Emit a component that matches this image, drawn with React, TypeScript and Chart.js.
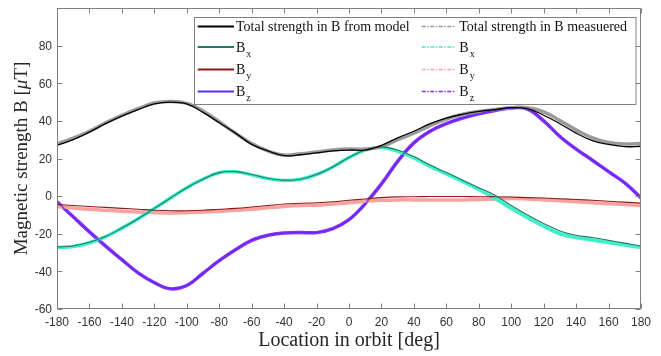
import React, { useEffect, useRef } from "react";
import { Chart, registerables } from "chart.js";
Chart.register(...registerables);

// Location in orbit [deg]
const angles = [
  -180, -170, -160, -150, -140, -130, -120, -110, -100, -90, -80, -70, -60, -50, -40, -30, -20, -10,
  0, 10, 20, 30, 40, 50, 60, 70, 80, 90, 100, 110, 120, 130, 140, 150, 160, 170, 180,
];

const totalModel = [
  27, 30, 34, 38.5, 42.5, 46, 49, 50, 49, 44.5, 39, 33.5, 27.5, 24, 21.5, 22, 23, 24,
  24.5, 24.5, 27, 31, 34.5, 38.5, 41.5, 43.5, 45, 46, 47, 46.5, 43, 38.5, 33.5, 29.5, 27.5, 26.3, 26.5,
];
const totalMeasured = [
  27.8, 30.8, 34.5, 39, 43, 46.5, 49.5, 50.3, 49.3, 45.3, 39.5, 33.5, 28, 24, 21.8, 22.5, 23.5, 24.5,
  25, 25, 26.3, 30, 33.5, 37.5, 41, 43.5, 45, 46, 47, 47, 44.8, 40.2, 35.2, 31, 28.5, 27.7, 28,
];
const bxModel = [
  -27, -26.5, -24.5, -21.5, -17, -12, -6.5, -1, 4.5, 9, 12.5, 13, 11.5, 9.5, 8.5, 9, 11.5, 15.5,
  20.5, 24.5, 26.2, 24.5, 21, 16.5, 12.5, 8.5, 4.5, 0.5, -5, -10, -14.5, -18.5, -20.8, -22, -23.5, -25, -26.5,
];
const bxMeasured = [
  -27.3, -26.8, -24.8, -21.5, -17, -12, -6.5, -1, 4.5, 9, 12.5, 13, 11.3, 9.3, 8.3, 9, 11.5, 15.5,
  20.5, 24.5, 25.8, 23.8, 20.3, 15.8, 11.8, 7.8, 3.6, -1.2, -6.5, -11.5, -16, -20, -22, -23.3, -24.7, -26, -27.2,
];
const byModel = [
  -4.5, -5, -5.5, -6, -6.5, -7, -7.5, -7.8, -7.8, -7.5, -7, -6.5, -5.8, -5, -4.2, -3.8, -3.5, -3,
  -2.2, -1.5, -0.8, -0.4, -0.3, -0.2, -0.2, -0.2, -0.3, -0.3, -0.5, -0.8, -1, -1.4, -1.8, -2.2, -2.7, -3.2, -3.7,
];
const byMeasured = [
  -5.5, -6.3, -7, -7.5, -8, -8.5, -8.8, -9, -8.8, -8.5, -8, -7.5, -7, -6.2, -5.5, -5, -4.8, -4.2,
  -3.5, -2.8, -2.2, -2, -2, -2, -2, -2, -1.8, -1.5, -1.2, -1.5, -2, -2.5, -3, -3.5, -4, -4.5, -5,
];
const bzModel = [
  -3, -11, -19, -26.6, -33.8, -40.8, -46, -49, -47.5, -41, -34.3, -28.5, -23.5, -20.8, -19.6, -19.3, -19.4, -17.3,
  -12.5, -4, 6.5, 18.5, 28.3, 34.5, 38.6, 41.5, 43.8, 45.5, 46.7, 46.3, 40, 31.7, 25, 19.1, 13, 7, -1,
];
const bzMeasured = [
  -3, -11, -19, -26.6, -33.8, -40.8, -46, -49.3, -47.5, -41, -34.3, -28.5, -23.5, -20.8, -19.6, -19.3, -19.4, -17.3,
  -12.5, -4, 6.5, 18.5, 28.3, 34.5, 38.6, 41.5, 43.8, 45.5, 46.9, 46.3, 40, 31.7, 25, 19.1, 13, 7, -1,
];

const xTicks = [-180, -160, -140, -120, -100, -80, -60, -40, -20, 0, 20, 40, 60, 80, 100, 120, 140, 160, 180];
const yTicks = [-60, -40, -20, 0, 20, 40, 60, 80];

const modelColors = { total: "#000000", bx: "#1f7a6a", by: "#8b1a1a", bz: "#5a2cff" };
const measColors = { total: "#9a9a9a", bx: "#3cf0c8", by: "#f7a29e", bz: "#8c2ef0" };

const legendRows = [
  { main: "Total strength in B from model", sub: "", key: "total" },
  { main: "B", sub: "x", key: "bx" },
  { main: "B", sub: "y", key: "by" },
  { main: "B", sub: "z", key: "bz" },
];
const legendRows2 = [
  { main: "Total strength in B measuered", sub: "", key: "total" },
  { main: "B", sub: "x", key: "bx" },
  { main: "B", sub: "y", key: "by" },
  { main: "B", sub: "z", key: "bz" },
];

const SERIF = '"Liberation Serif", "Times New Roman", serif';
const SANS = '"Liberation Sans", Arial, sans-serif';
const AXIS = "#808080";

export default function App() {
  const ref = useRef<HTMLCanvasElement>(null);
  useEffect(() => {
    const canvas = ref.current!;
    const mk = (label: string, data: number[], color: string, width: number, order: number) => ({
      label,
      data: data.map((v, i) => ({ x: angles[i], y: v })),
      borderColor: color,
      backgroundColor: color,
      borderWidth: width,
      pointRadius: 0,
      tension: 0.4,
      fill: false,
      order,
    });

    const axisPlugin = {
      id: "axisBox",
      afterDatasetsDraw(chart: any) {
        const { ctx, chartArea, scales } = chart;
        const { left, right, top, bottom } = chartArea;
        ctx.save();
        ctx.strokeStyle = AXIS;
        ctx.lineWidth = 1;
        const L = Math.round(left) + 0.5, R = Math.round(right) - 0.5;
        const T = Math.round(top) + 0.5, B = Math.round(bottom) - 0.5;
        ctx.strokeRect(L, T, R - L, B - T);
        ctx.beginPath();
        xTicks.forEach((v) => {
          const px = Math.round(scales.x.getPixelForValue(v)) + 0.5;
          ctx.moveTo(px, B); ctx.lineTo(px, B - 5);
          ctx.moveTo(px, T); ctx.lineTo(px, T + 5);
        });
        yTicks.forEach((v) => {
          const py = Math.round(scales.y.getPixelForValue(v)) + 0.5;
          ctx.moveTo(L, py); ctx.lineTo(L + 5, py);
          ctx.moveTo(R, py); ctx.lineTo(R - 5, py);
        });
        ctx.stroke();

        // tick labels
        ctx.fillStyle = "#333333";
        ctx.font = `12px ${SANS}`;
        ctx.textBaseline = "middle";
        ctx.textAlign = "center";
        xTicks.forEach((v) => {
          ctx.fillText(String(v), scales.x.getPixelForValue(v), 323);
        });
        ctx.textAlign = "right";
        yTicks.forEach((v) => {
          ctx.fillText(String(v), 52, scales.y.getPixelForValue(v) + 1);
        });
        ctx.restore();
      },
      afterDraw(chart: any) {
        const { ctx, chartArea } = chart;
        ctx.save();
        // axis titles
        ctx.fillStyle = "#262626";
        ctx.font = `20px ${SERIF}`;
        ctx.textBaseline = "middle";
        ctx.textAlign = "center";
        ctx.fillText("Location in orbit [deg]", (chartArea.left + chartArea.right) / 2, 341);
        // y title with italic mu
        ctx.save();
        ctx.translate(22, (chartArea.top + chartArea.bottom) / 2);
        ctx.rotate(-Math.PI / 2);
        ctx.textAlign = "left";
        const fs = 19;
        const p1 = "Magnetic strength B [", p2 = "\u03bc", p3 = "T]";
        ctx.font = `${fs}px ${SERIF}`;
        const w1 = ctx.measureText(p1).width, w3 = ctx.measureText(p3).width;
        ctx.font = `italic ${fs}px ${SERIF}`;
        const w2 = ctx.measureText(p2).width;
        let x0 = -(w1 + w2 + w3) / 2;
        ctx.font = `${fs}px ${SERIF}`;
        ctx.fillText(p1, x0, 0); x0 += w1;
        ctx.font = `italic ${fs}px ${SERIF}`;
        ctx.fillText(p2, x0, 0); x0 += w2;
        ctx.font = `${fs}px ${SERIF}`;
        ctx.fillText(p3, x0, 0);
        ctx.restore();

        // legend
        const bx0 = 194.5, by0 = 17.5, bw = 441.5, bh = 87;
        ctx.fillStyle = "#ffffff";
        ctx.fillRect(bx0, by0, bw, bh);
        ctx.strokeStyle = AXIS;
        ctx.lineWidth = 1;
        ctx.strokeRect(bx0, by0, bw, bh);
        const rowsY = [26.5, 47, 69.5, 91.5];
        const drawCol = (rows: any[], colors: any, lx1: number, lx2: number, tx: number, dashed: boolean) => {
          rows.forEach((r, i) => {
            const y = rowsY[i];
            ctx.save();
            ctx.beginPath();
            ctx.strokeStyle = colors[r.key];
            ctx.lineWidth = dashed ? 1.5 : 2;
            ctx.setLineDash(dashed ? [4, 1.5, 1.5, 1.5] : []);
            ctx.moveTo(lx1, y);
            ctx.lineTo(lx2, y);
            ctx.stroke();
            ctx.restore();
            ctx.fillStyle = "#111111";
            ctx.textAlign = "left";
            ctx.textBaseline = "alphabetic";
            ctx.font = `14px ${SERIF}`;
            ctx.fillText(r.main, tx, y + 4.7);
            if (r.sub) {
              const w = ctx.measureText(r.main).width;
              ctx.font = `10px ${SERIF}`;
              ctx.fillText(r.sub, tx + w + 1, y + 9.5);
            }
          });
        };
        drawCol(legendRows, modelColors, 197.7, 234, 236, false);
        drawCol(legendRows2, measColors, 421.7, 455, 459.3, true);
        ctx.restore();
      },
    };

    const chart = new Chart(canvas, {
      type: "line",
      data: {
        datasets: [
          mk("Total strength in B from model", totalModel, modelColors.total, 1.3, 0),
          mk("Bx model", bxModel, modelColors.bx, 1.1, 0),
          mk("By model", byModel, modelColors.by, 1.1, 0),
          mk("Bz model", bzModel, modelColors.bz, 1.1, 0),
          mk("Total strength in B measuered", totalMeasured, measColors.total, 3.5, 1),
          mk("Bx measured", bxMeasured, measColors.bx, 3.5, 1),
          mk("By measured", byMeasured, measColors.by, 3.5, 1),
          mk("Bz measured", bzMeasured, measColors.bz, 3.5, 1),
        ] as any,
      },
      options: {
        responsive: false,
        animation: false,
        devicePixelRatio: 1,
        layout: { padding: { left: 0, right: 20, top: 8, bottom: 0 } },
        plugins: { legend: { display: false }, tooltip: { enabled: false } },
        scales: {
          x: {
            type: "linear",
            min: -180,
            max: 180,
            afterFit: (s: any) => { s.height = 47; },
            ticks: { display: false },
            grid: { display: false },
            border: { display: false },
          },
          y: {
            type: "linear",
            min: -60,
            max: 100,
            afterFit: (s: any) => { s.width = 57; },
            ticks: { display: false },
            grid: { display: false },
            border: { display: false },
          },
        },
      },
      plugins: [axisPlugin],
    });
    return () => chart.destroy();
  }, []);
  return (
    <div style={{ position: "absolute", left: 0, top: 0, width: 661, height: 356, background: "#fff" }}>
      <canvas ref={ref} width={661} height={356} style={{ width: 661, height: 356, display: "block" }} />
    </div>
  );
}
